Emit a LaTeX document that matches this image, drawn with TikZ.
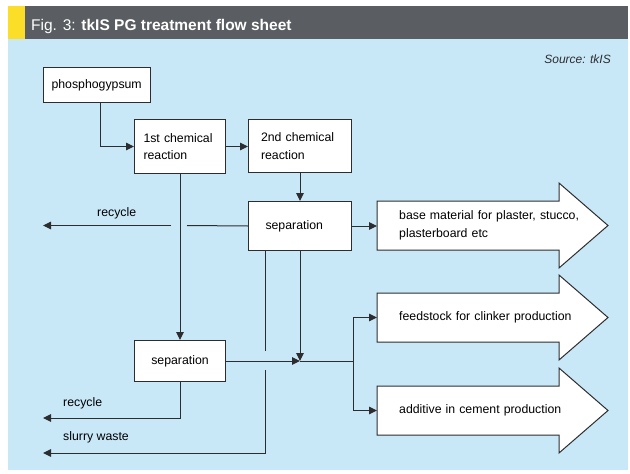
\documentclass[tikz,border=0pt]{standalone}
\usepackage{fontspec}
\setmainfont{Liberation Sans}
\usetikzlibrary{arrows.meta}
\definecolor{panelblue}{RGB}{200,232,247}
\definecolor{titlegray}{RGB}{90,93,97}
\definecolor{titleyellow}{RGB}{250,222,40}
\definecolor{linegray}{RGB}{45,45,48}

\begin{document}
\begin{tikzpicture}[x=1pt,y=-1pt,
  unit/.style={draw=linegray,line width=1pt,fill=white,anchor=north west,inner sep=0pt,align=left,font=\fontsize{12.3}{17.5}\selectfont},
  outbody/.style={anchor=west,inner ysep=0pt,inner xsep=22pt,text width=180pt,align=left,font=\fontsize{12.3}{18}\selectfont},
  bigarrow/.style={draw=linegray,line width=1pt,fill=white},
  link/.style={draw=linegray,line width=1pt},
  flow/.style={link,-{Triangle[length=8pt,width=7.5pt]}},
  lbl/.style={anchor=west,inner sep=0pt,font=\fontsize{12.3}{14}\selectfont}]
\useasboundingbox (0,0) rectangle (630,474);
\fill[white] (0,0) rectangle (630,474);
\fill[panelblue] (8,39) rectangle (628,470);
\fill[titlegray] (8,6) rectangle (628,39);
\fill[titleyellow] (8,6) rectangle (25,39);
\node[anchor=base west,inner sep=0pt,text=white,font=\fontsize{15.5}{18}\selectfont] (title) at (31,30) {Fig. 3: \textbf{tkIS PG treatment flow sheet}};
\node[anchor=base east,inner sep=0pt,text=linegray,font=\fontsize{12}{14}\selectfont\itshape] (source) at (611,63) {Source: tkIS};

\foreach \y in {201,293,386}
  \draw[bigarrow] (377,\y) -- (559,\y) -- (559,\y-18) -- (608,\y+24.5) -- (559,\y+67) -- (559,\y+49) -- (377,\y+49) -- cycle;

\node[unit,minimum width=107pt,minimum height=35pt,text width=91pt] (phos) at (43,67) {phosphogypsum};
\node[unit,minimum width=91pt,minimum height=54pt,text width=73pt] (chem1) at (134,119) {1st chemical\\reaction};
\node[unit,minimum width=103pt,minimum height=53pt,text width=78pt] (chem2) at (248,119) {2nd chemical\\reaction};
\node[unit,minimum width=103pt,minimum height=49pt,text width=69pt] (sep1) at (248,201) {separation};
\node[unit,minimum width=91pt,minimum height=41pt,text width=73pt,align=center] (sep2) at (134,340) {separation};
\node[outbody] (base) at (377,225.5) {base material for plaster, stucco,\\plasterboard etc};
\node[outbody] (feed) at (377,317.5) {feedstock for clinker production};
\node[outbody] (add) at (377,410.5) {additive in cement production};

\node[lbl] (rectop) at (97,213) {recycle};
\node[lbl] (recbot) at (63,403) {recycle};
\node[lbl] (slurry) at (63,437) {slurry waste};

\coordinate (rec1) at (43,225.5);
\coordinate (gapA) at (187,225.5);
\coordinate (gapB) at (171,225.5);
\coordinate (rec2) at (43,418);
\coordinate (waste) at (43,453);
\coordinate (junc) at (sep2.east -| sep1.south);
\coordinate (split) at ([xshift=53pt]junc);

\draw[flow] ([xshift=3.5pt]phos.south) |- (chem1.west);
\draw[flow] (chem1.east) -- (chem1.east -| chem2.west);
\draw[flow] (chem2.south) -- (sep1.north);
\draw[link] (sep1.west) -- (gapA);
\draw[flow] (gapB) -- (rec1);
\draw[flow] (chem1.south) -- (sep2.north);
\draw[flow] (sep1.east) -- (sep1.east -| base.west);
\draw[flow] (sep1.south) -- (junc);
\draw[flow] (sep2.east) -- (junc);
\draw[link] (junc) -- (split);
\draw[flow] (split) |- (feed.west);
\draw[flow] (split) |- (add.west);
\draw[link] ([xshift=17pt]sep1.south west) -- (265,351);
\draw[flow] (265,370) |- (waste);
\draw[flow] (sep2.south) |- (rec2);
\end{tikzpicture}
\end{document}
